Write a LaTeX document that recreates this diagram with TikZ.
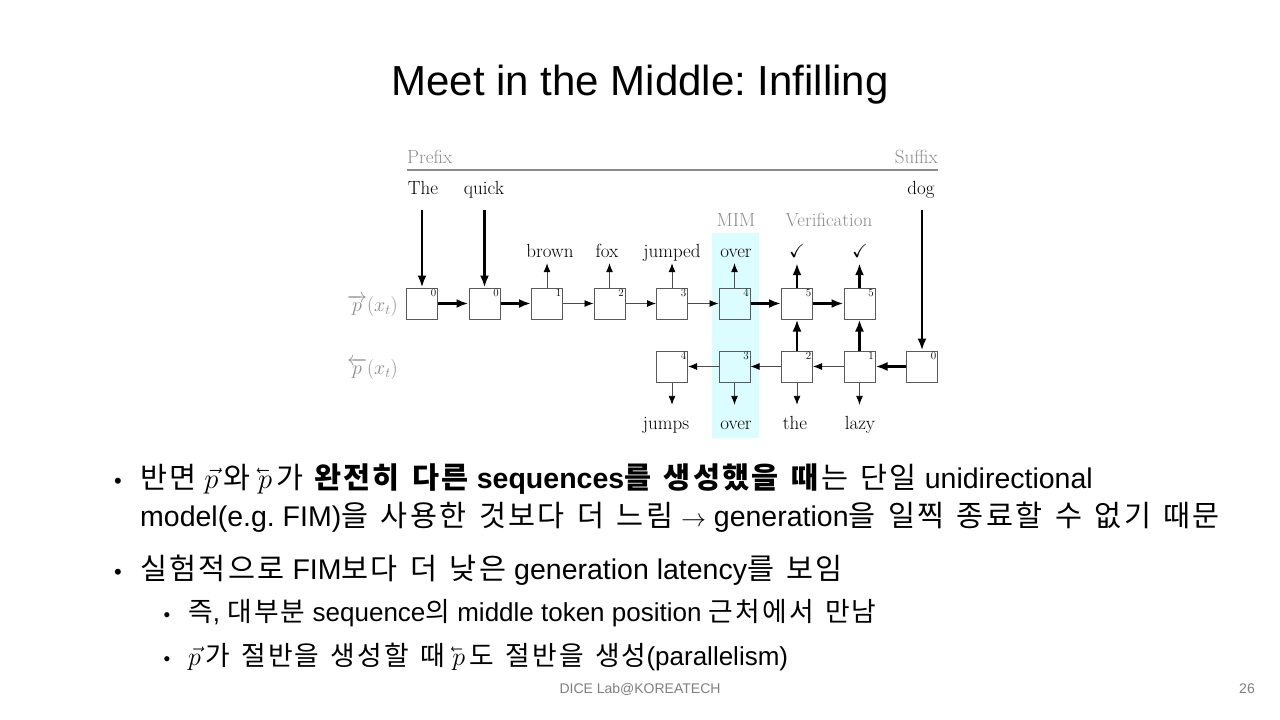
\RequirePackage{fix-cm}
\documentclass[tikz,border=0pt]{standalone}
\usepackage{amsmath,amssymb}
\usepackage{fontspec}
\usetikzlibrary{arrows.meta}

\newfontfamily\arialfont{Liberation Sans}
\newfontfamily\krfont[Scale=1.03,LetterSpace=8,WordSpace=1.4]{Noto Sans CJK KR}
\newcommand{\kr}[1]{{\krfont #1}}
% p with a small left-pointing arrow: mirror the vector accent, keep the p upright
\newcommand{\lvecp}{\reflectbox{$\vec{\reflectbox{$p$}}$}\,}
\newcommand{\rvecp}{$\vec{p}$\,}
\newcommand{\toarrow}{{\fontsize{25}{25}\selectfont$\rightarrow$}}

\definecolor{mimcyan}{HTML}{DCFDFF}
\definecolor{boxgray}{HTML}{5A5A5A}
\definecolor{labgray}{HTML}{8C8C8C}
\definecolor{footgray}{HTML}{7F7F7F}

\tikzset{
  cell/.style={draw=boxgray, line width=1pt, minimum size=31pt, inner sep=0pt},
  num/.style={anchor=north east, inner sep=1.5pt, font=\fontsize{11}{11}\selectfont},
  diag/.style={font=\fontsize{19}{23}\selectfont, inner sep=0pt},
  topword/.style={diag, anchor=base, text depth=6pt},
  inword/.style={diag, anchor=base, text depth=16pt},
  botword/.style={diag, anchor=base, text height=24pt},
  greylab/.style={diag, anchor=base, text=labgray},
  rowlab/.style={font=\fontsize{20}{24}\selectfont, inner sep=0pt, anchor=east, text=labgray},
  thickar/.style={line width=2.4pt, -{Latex[length=12pt,width=9pt]}},
  thinar/.style={line width=0.9pt, draw=black!70, -{Latex[length=9pt,width=7pt,color=black]}},
  bigtext/.style={font=\arialfont\fontsize{28.5}{34}\selectfont, anchor=base west, inner sep=0pt},
  smalltext/.style={font=\arialfont\fontsize{26}{31}\selectfont, anchor=base west, inner sep=0pt},
  dot/.style={font=\arialfont\fontsize{22}{26}\selectfont, anchor=base, inner sep=0pt},
  subdot/.style={font=\arialfont\fontsize{19}{22}\selectfont, anchor=base, inner sep=0pt},
}

\begin{document}
\frenchspacing
\begin{tikzpicture}[x=1pt,y=-1pt]
\useasboundingbox (0,0) rectangle (1280,720);
\fill[white] (0,0) rectangle (1280,720);

% title
\node[font=\arialfont\fontsize{42}{50}\selectfont, anchor=base, inner sep=0pt] (title) at (640,95) {Meet in the Middle: Infilling};

% highlighted middle column
\fill[mimcyan] (712,233) rectangle (759,438);

% prefix / suffix header
\node[diag, anchor=base west, text=labgray] (prefix) at (407,163) {Prefix};
\node[diag, anchor=base east, text=labgray] (suffix) at (938,163) {Suffix};
\coordinate (ruleL) at (407,170);
\coordinate (ruleR) at (938,170);
\draw[labgray, line width=1.1pt] (ruleL) -- (ruleR);

% forward row
\foreach \i/\n in {0/0,1/0,2/1,3/2,4/3,5/4,6/5,7/5}
  \node[cell, label={[num]north east:\n}] (t\i) at ({422+62.5*\i},303.5) {};
% backward row
\foreach \i/\n in {4/4,5/3,6/2,7/1,8/0}
  \node[cell, label={[num]north east:\n}] (u\i) at ({422+62.5*\i},366.5) {};

% row labels
\node[rowlab] (fwd) at (398,306) {$\overrightarrow{p}(x_t)$};
\node[rowlab] (bwd) at (398,369) {$\overleftarrow{p}(x_t)$};

% given context words
\node[inword] (the) at (423,194) {The};
\node[inword] (quick) at (484,194) {quick};
\node[inword] (dog) at (921,194) {dog};

% stage labels
\node[greylab] (mim) at (736,226) {MIM};
\node[greylab] (verif) at (829,226) {Verification};

% forward outputs
\node[topword] (brown) at (550,257) {brown};
\node[topword] (fox) at (607,257) {fox};
\node[topword] (jumped) at (672,257) {jumped};
\node[topword] (overA) at (736,257) {over};
\node[topword] (chkA) at (797,257) {$\checkmark$};
\node[topword] (chkB) at (860,257) {$\checkmark$};

% backward outputs
\node[botword] (jumps) at (666,429) {jumps};
\node[botword] (overB) at (736,429) {over};
\node[botword] (theB) at (795,429) {the};
\node[botword] (lazy) at (860,429) {lazy};

% context inputs
\draw[thickar] (the.south -| t0.north) -- (t0.north);
\draw[thickar] (quick.south -| t1.north) -- (t1.north);
\draw[thickar] (dog.south -| u8.north) -- (u8.north);

% forward chain
\draw[thickar] (t0.east) -- (t1.west);
\draw[thickar] (t1.east) -- (t2.west);
\draw[thinar] (t2.east) -- (t3.west);
\draw[thinar] (t3.east) -- (t4.west);
\draw[thinar] (t4.east) -- (t5.west);
\draw[thickar] (t5.east) -- (t6.west);
\draw[thickar] (t6.east) -- (t7.west);

% forward emissions
\draw[thinar] (t2.north) -- (t2.north |- brown.south);
\draw[thinar] (t3.north) -- (t3.north |- fox.south);
\draw[thinar] (t4.north) -- (t4.north |- jumped.south);
\draw[thinar] (t5.north) -- (t5.north |- overA.south);
\draw[thickar] (t6.north) -- (t6.north |- chkA.south);
\draw[thickar] (t7.north) -- (t7.north |- chkB.south);

% backward chain
\draw[thickar] (u8.west) -- (u7.east);
\draw[thinar] (u7.west) -- (u6.east);
\draw[thinar] (u6.west) -- (u5.east);
\draw[thinar] (u5.west) -- (u4.east);

% verification links
\draw[thickar] (u6.north) -- (t6.south);
\draw[thickar] (u7.north) -- (t7.south);

% backward emissions
\draw[thinar] (u4.south) -- (u4.south |- jumps.north);
\draw[thinar] (u5.south) -- (u5.south |- overB.north);
\draw[thinar] (u6.south) -- (u6.south |- theB.north);
\draw[thinar] (u7.south) -- (u7.south |- lazy.north);

% bullet list
\node[dot] (d1) at (118,488) {•};
\node[bigtext] (l1) at (140,488) {\kr{반면} \rvecp\kr{와} \lvecp\kr{가} \textbf{\kr{완전히 다른} sequences\kr{를 생성했을 때}}\kr{는 단일} unidirectional};
\node[bigtext] (l2) at (140,526) {model(e.g. FIM)\kr{을 사용한 것보다 더 느림} \toarrow{} generation\kr{을 일찍 종료할 수 없기 때문}};
\node[dot] (d2) at (118,579) {•};
\node[bigtext] (l3) at (140,579) {\kr{실험적으로} FIM\kr{보다 더 낮은} generation latency\kr{를 보임}};
\node[subdot] (d3) at (167,621) {•};
\node[smalltext] (l4) at (188,621) {\kr{즉}, \kr{대부분} sequence\kr{의} middle token position \kr{근처에서 만남}};
\node[subdot] (d4) at (167,665) {•};
\node[smalltext] (l5) at (188,665) {\rvecp\kr{가 절반을 생성할 때} \lvecp\kr{도 절반을 생성}(parallelism)};

% footer
\node[font=\arialfont\fontsize{14}{16}\selectfont, text=footgray, anchor=base, inner sep=0pt] (foot) at (640,693) {DICE Lab@KOREATECH};
\node[font=\arialfont\fontsize{14}{16}\selectfont, text=footgray, anchor=base, inner sep=0pt] (page) at (1247,693) {26};
\end{tikzpicture}
\end{document}
